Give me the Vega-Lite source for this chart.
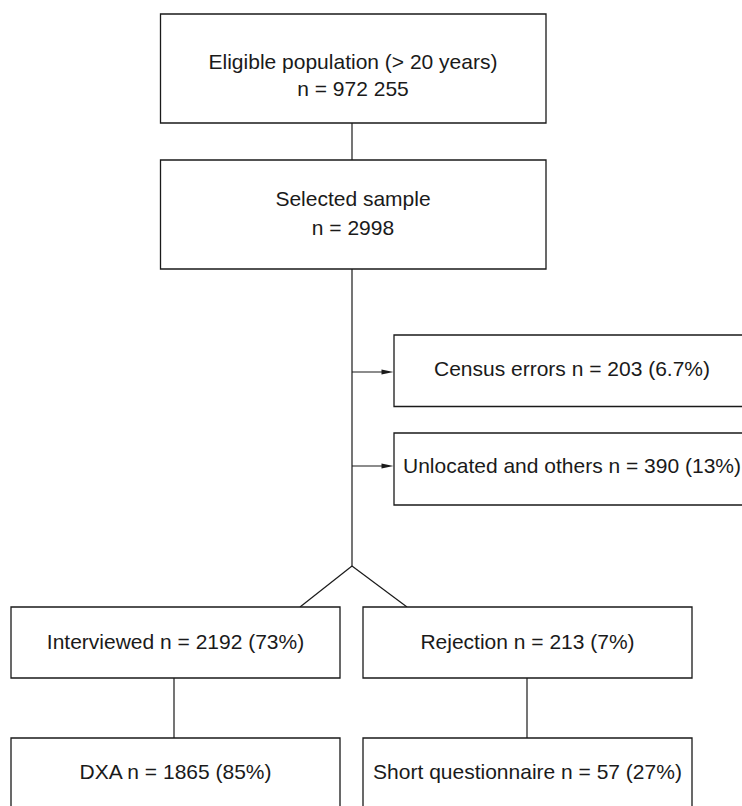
{
  "$schema": "https://vega.github.io/schema/vega-lite/v6.json",
  "width": 742,
  "height": 806,
  "autosize": {"type": "fit", "contains": "padding"},
  "padding": 0,
  "config": {"view": {"stroke": null}},
  "datasets": {
    "boxes": [
      {"name": "eligible", "x1": 160.5, "x2": 546, "y1": 14, "y2": 123},
      {"name": "selected", "x1": 160.5, "x2": 546, "y1": 160, "y2": 269},
      {"name": "census", "x1": 394, "x2": 770, "y1": 335, "y2": 406.5},
      {"name": "unlocated", "x1": 394, "x2": 770, "y1": 433, "y2": 505},
      {"name": "interviewed", "x1": 11, "x2": 340, "y1": 607, "y2": 678},
      {"name": "rejection", "x1": 363, "x2": 692, "y1": 607, "y2": 678},
      {"name": "dxa", "x1": 11, "x2": 340, "y1": 738, "y2": 840},
      {"name": "short", "x1": 363, "x2": 692, "y1": 738, "y2": 840}
    ],
    "lines": [
      {"x1": 352, "y1": 123, "x2": 352, "y2": 160},
      {"x1": 352, "y1": 269, "x2": 352, "y2": 566},
      {"x1": 352, "y1": 372, "x2": 386, "y2": 372},
      {"x1": 352, "y1": 466, "x2": 386, "y2": 466},
      {"x1": 352, "y1": 566, "x2": 300, "y2": 607},
      {"x1": 352, "y1": 566, "x2": 407, "y2": 607},
      {"x1": 174, "y1": 678, "x2": 174, "y2": 738},
      {"x1": 527, "y1": 678, "x2": 527, "y2": 738}
    ],
    "arrows": [
      {"x": 387.5, "y": 372},
      {"x": 387.5, "y": 466}
    ],
    "labels": [
      {"x": 353, "y": 63, "text": "Eligible population (> 20 years)"},
      {"x": 353, "y": 90, "text": "n = 972 255"},
      {"x": 353, "y": 200, "text": "Selected sample"},
      {"x": 353, "y": 229, "text": "n = 2998"},
      {"x": 572, "y": 370, "text": "Census errors n = 203 (6.7%)"},
      {"x": 572, "y": 466.5, "text": "Unlocated and others n = 390 (13%)"},
      {"x": 175.5, "y": 643, "text": "Interviewed n = 2192 (73%)"},
      {"x": 527.5, "y": 643, "text": "Rejection n = 213 (7%)"},
      {"x": 175.5, "y": 773, "text": "DXA n = 1865 (85%)"},
      {"x": 527.5, "y": 773, "text": "Short questionnaire n = 57 (27%)"}
    ]
  },
  "layer": [
    {
      "data": {"name": "lines"},
      "mark": {"type": "rule", "color": "#1a1a1a", "strokeWidth": 1.2},
      "encoding": {
        "x": {"field": "x1", "type": "quantitative", "scale": {"domain": [0, 742], "nice": false, "zero": false}, "axis": null},
        "y": {"field": "y1", "type": "quantitative", "scale": {"domain": [0, 806], "nice": false, "zero": false, "reverse": true}, "axis": null},
        "x2": {"field": "x2"},
        "y2": {"field": "y2"}
      }
    },
    {
      "data": {"name": "boxes"},
      "mark": {"type": "rect", "fill": "white", "stroke": "#1a1a1a", "strokeWidth": 1.3, "clip": true},
      "encoding": {
        "x": {"field": "x1", "type": "quantitative"},
        "x2": {"field": "x2"},
        "y": {"field": "y1", "type": "quantitative"},
        "y2": {"field": "y2"}
      }
    },
    {
      "data": {"name": "arrows"},
      "mark": {"type": "point", "shape": "M-1,-0.42L1,0L-1,0.42Z", "filled": true, "color": "#1a1a1a", "size": 144, "opacity": 1},
      "encoding": {
        "x": {"field": "x", "type": "quantitative"},
        "y": {"field": "y", "type": "quantitative"}
      }
    },
    {
      "data": {"name": "labels"},
      "mark": {"type": "text", "font": "Liberation Sans", "fontSize": 21, "color": "#1a1a1a", "align": "center", "baseline": "middle"},
      "encoding": {
        "x": {"field": "x", "type": "quantitative"},
        "y": {"field": "y", "type": "quantitative"},
        "text": {"field": "text"}
      }
    }
  ]
}
